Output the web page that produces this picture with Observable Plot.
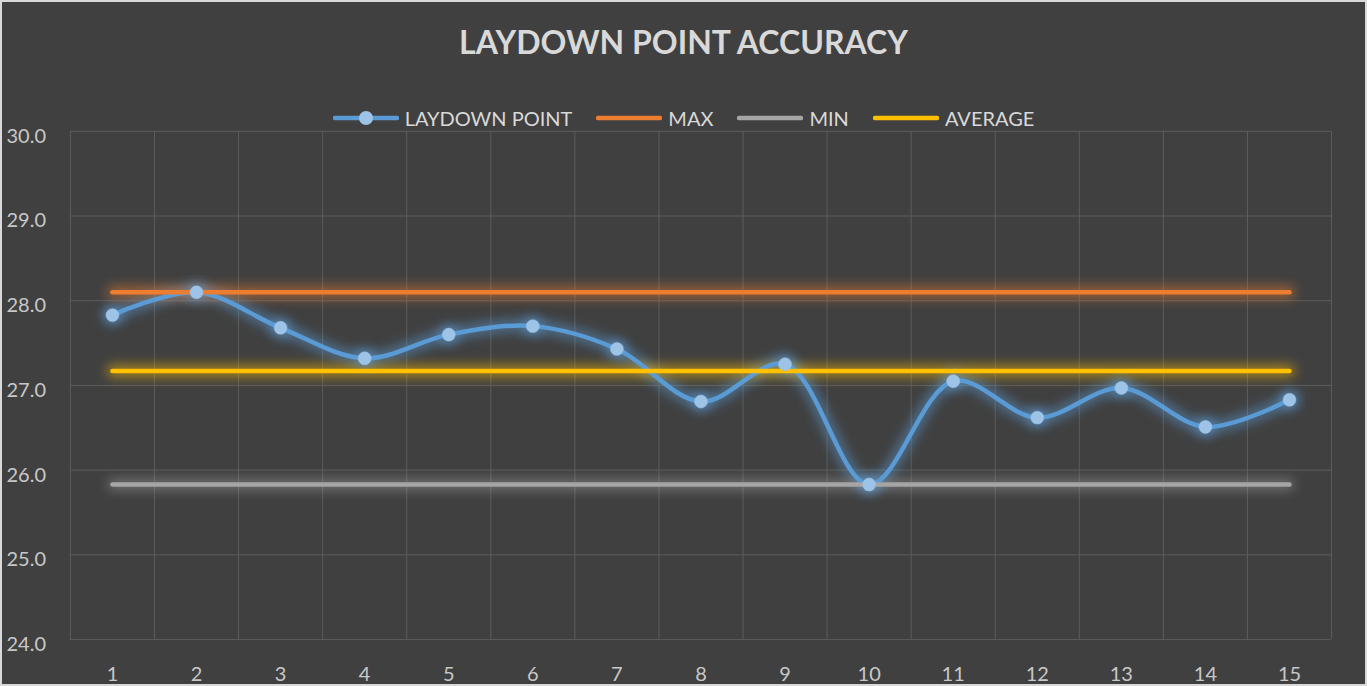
<!DOCTYPE html>
<html>
<head>
<meta charset="utf-8">
<script src="https://cdn.jsdelivr.net/npm/d3@7"></script>
<script src="https://cdn.jsdelivr.net/npm/@observablehq/plot@0.6"></script>
<style>
  html, body { margin: 0; padding: 0; background: #404040; }
  #chart { position: relative; width: 1367px; height: 686px; box-sizing: border-box; border: 2px solid #d9d9d9; background: #404040; overflow: hidden; font-family: Lato, "Open Sans", sans-serif; }
  #title { position: absolute; left: 0; right: 0; top: 20px; text-align: center; color: #d9d9d9; font-weight: bold; font-size: 32px; letter-spacing: 0px; }
  #legend { position: absolute; left: 0; right: 0; top: 103px; height: 26px; display: flex; justify-content: center; align-items: center; color: #d9d9d9; font-size: 20px; }
  .item { display: flex; align-items: center; margin: 0 12px; }
  .item svg { margin-right: 6px; }
  #plot { position: absolute; left: -2px; top: -2px; }
</style>
</head>
<body>
<div id="chart">
  <div id="plot"></div>
  <div id="title">LAYDOWN POINT ACCURACY</div>
  <div id="legend"></div>
</div>
<script>
// ---- data ----
const categories = [1, 2, 3, 4, 5, 6, 7, 8, 9, 10, 11, 12, 13, 14, 15];
const laydownPoint = [27.83, 28.10, 27.68, 27.32, 27.60, 27.70, 27.43, 26.81, 27.25, 25.83, 27.05, 26.62, 26.97, 26.51, 26.83];
const maxValue = 28.10;
const minValue = 25.83;
const averageValue = 27.17;
const yTicks = [24, 25, 26, 27, 28, 29, 30];
const seriesNames = ["LAYDOWN POINT", "MAX", "MIN", "AVERAGE"];
const seriesColors = ["#5b9bd5", "#ed7d31", "#a5a5a5", "#ffc000"];
const markerColor = "#9dc3e6";

const data = categories.map((c, i) => ({x: c, laydown: laydownPoint[i], max: maxValue, min: minValue, avg: averageValue}));
const gridXPositions = categories.map(c => c - 0.5).concat([categories[categories.length - 1] + 0.5]);

const glowLine = (key, color, w) => Plot.line(data, {x: "x", y: key, stroke: color, strokeWidth: w, strokeOpacity: 0.55, curve: key === "laydown" ? "catmull-rom" : "linear", strokeLinecap: "round", ariaDescription: "glow"});

const chart = Plot.plot({
  width: 1367,
  height: 686,
  marginTop: 131,
  marginBottom: 46,
  marginLeft: 70,
  marginRight: 34,
  style: {background: "transparent", color: "#d9d9d9", fontFamily: "Lato, 'Open Sans', sans-serif", fontSize: "20px", overflow: "visible"},
  x: {domain: [0.5, 15.5], label: null},
  y: {domain: [24, 30], label: null},
  marks: [
    Plot.gridX(gridXPositions, {stroke: "#5c5c5c", strokeOpacity: 1, strokeWidth: 1}),
    Plot.gridY(yTicks, {stroke: "#5c5c5c", strokeOpacity: 1, strokeWidth: 1}),
    Plot.axisX(categories, {tickSize: 0, tickPadding: 27, tickFormat: d => String(d), fill: "#c8c8c8", fontSize: 20, label: null}),
    Plot.axisY(yTicks, {tickSize: 0, tickPadding: 0, dx: -64, dy: 5, textAnchor: "start", tickFormat: d3.format(".1f"), fill: "#c8c8c8", fontSize: 20, label: null}),
    // glow layers
    glowLine("laydown", seriesColors[0], 12),
    glowLine("max", seriesColors[1], 12),
    glowLine("min", seriesColors[2], 10),
    glowLine("avg", seriesColors[3], 12),
    Plot.dot(data, {x: "x", y: "laydown", r: 10, fill: seriesColors[0], fillOpacity: 0.6, ariaDescription: "glow"}),
    // main lines
    Plot.line(data, {x: "x", y: "laydown", stroke: seriesColors[0], strokeWidth: 4.5, curve: "catmull-rom", strokeLinecap: "round"}),
    Plot.line(data, {x: "x", y: "max", stroke: seriesColors[1], strokeWidth: 4.5, strokeLinecap: "round"}),
    Plot.line(data, {x: "x", y: "min", stroke: seriesColors[2], strokeWidth: 4.5, strokeLinecap: "round"}),
    Plot.line(data, {x: "x", y: "avg", stroke: seriesColors[3], strokeWidth: 4.5, strokeLinecap: "round"}),
    Plot.dot(data, {x: "x", y: "laydown", r: 6.5, fill: markerColor, stroke: markerColor, strokeWidth: 0.5})
  ]
});
chart.querySelectorAll('[aria-description="glow"]').forEach(g => { g.style.filter = "blur(6px)"; });
document.getElementById("plot").appendChild(chart);

// legend
const legend = document.getElementById("legend");
seriesNames.forEach((name, i) => {
  const item = document.createElement("div");
  item.className = "item";
  const marker = i === 0 ? `<circle cx="33" cy="10" r="7" fill="${markerColor}"/>` : "";
  item.innerHTML = `<svg width="66" height="20"><line x1="2" y1="10" x2="64" y2="10" stroke="${seriesColors[i]}" stroke-width="4.5" stroke-linecap="round"/>${marker}</svg><span>${name}</span>`;
  legend.appendChild(item);
});
</script>
</body>
</html>
